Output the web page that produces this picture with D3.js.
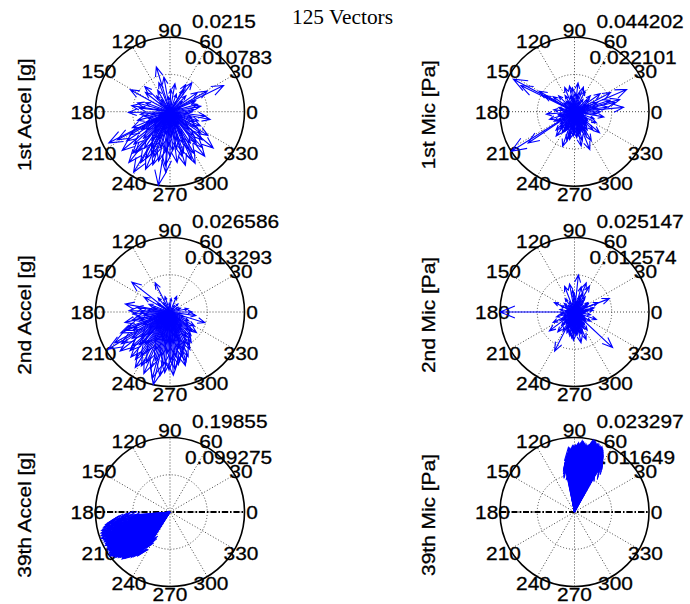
<!DOCTYPE html>
<html>
<head>
<meta charset="utf-8">
<script src="https://cdn.jsdelivr.net/npm/d3@7"></script>
<style>
  body { margin: 0; background: #fff; }
  svg { display: block; }
</style>
</head>
<body>
<script>
// ---- Data: compass vectors (angle in degrees, magnitude in physical units) ----
const title = "125 Vectors";
const panelLabels = ["1st Accel [g]", "1st Mic [Pa]", "2nd Accel [g]", "2nd Mic [Pa]", "39th Accel [g]", "39th Mic [Pa]"];
const ringMax  = [0.0215, 0.044202, 0.026586, 0.025147, 0.19855, 0.023297];
const ringHalf = [0.010783, 0.022101, 0.013293, 0.012574, 0.099275, 0.011649];
const angleTicks = [0, 30, 60, 90, 120, 150, 180, 210, 240, 270, 300, 330];

const accel1Angle = [26,29,53,58,100,107,111,142,151,171,
  173,15,23,0,35,45,70,80,88,120,
  130,160,165,10,5,40,95,135,125,60,
  181,349,353,185,190,195,188,198,207,208,
  203,210,212,205,214,219,222,225,218,228,
  226,230,231,235,239,240,237,243,233,244,
  247,250,252,255,248,257,258,246,261,265,
  263,268,270,272,266,274,278,285,280,282,
  288,276,286,296,297,292,300,303,298,294,
  308,310,315,319,320,312,317,325,330,335,
  322,338,328,345,355,342,200,230,260,290,
  320,350,20,80,140,170,215,245,275,305,
  335,190,110,60,250];
const accel1Mag = [.0172,.0123,.0105,.0075,.0101,.0135,.0090,.0090,.0131,.0112,
  .0090,.0082,.0080,.0065,.0097,.0065,.0054,.0082,.0065,.0071,
  .0060,.0075,.0097,.0090,.0071,.0047,.0043,.0103,.0043,.0090,
  .0120,.0118,.0103,.0086,.0075,.0097,.0054,.0065,.0198,.0172,
  .0118,.0133,.0097,.0075,.0151,.0178,.0140,.0108,.0086,.0161,
  .0065,.0155,.0189,.0129,.0204,.0170,.0097,.0151,.0075,.0118,
  .0181,.0138,.0161,.0108,.0086,.0146,.0065,.0133,.0215,.0157,
  .0118,.0097,.0129,.0075,.0176,.0112,.0148,.0133,.0108,.0086,
  .0125,.0065,.0161,.0166,.0123,.0097,.0140,.0108,.0075,.0151,
  .0163,.0118,.0097,.0123,.0163,.0140,.0075,.0108,.0086,.0097,
  .0065,.0075,.0129,.0065,.0054,.0086,.0032,.0043,.0039,.0047,
  .0032,.0026,.0032,.0026,.0039,.0043,.0054,.0047,.0032,.0043,
  .0039,.0026,.0022,.0032,.0054];

const mic1Angle = [152,154,150,212,214,23,15,5,13,35,
  22,83,101,112,63,152,185,320,292,281,
  251,233,197,333,296,45,75,95,120,135,
  165,175,205,220,240,260,270,285,300,305,
  315,340,350,355,8,18,28,40,55,88,
  105,128,145,190,225,245,255,265,275,290,
  310,325,0,10,70,
  3,14,27,33,48,66,79,91,97,109,
  118,133,141,158,169,178,183,194,203,209,
  218,227,236,243,248,254,259,263,268,272,
  277,283,288,294,299,304,308,313,318,324,
  329,336,344,352,358,22,58,86,124,171,
  199,231,246,257,279,286,297,311,267,239];
const mic1Mag = [.0411,.0354,.0243,.0442,.0332,.0336,.0278,.0292,.0248,.0186,
  .0146,.0172,.0155,.0155,.0137,.0203,.0168,.0194,.0243,.0208,
  .0217,.0181,.0155,.0146,.0159,.0133,.0124,.0141,.0111,.0133,
  .0097,.0124,.0133,.0111,.0146,.0168,.0133,.0177,.0199,.0133,
  .0155,.0124,.0177,.0133,.0199,.0221,.0243,.0111,.0088,.0111,
  .0097,.0080,.0155,.0097,.0155,.0124,.0177,.0111,.0155,.0124,
  .0111,.0097,.0155,.0133,.0155,
  .0066,.0053,.0088,.0080,.0044,.0062,.0097,.0071,.0088,.0053,
  .0066,.0044,.0080,.0057,.0088,.0066,.0053,.0097,.0080,.0110,
  .0088,.0124,.0097,.0133,.0110,.0088,.0141,.0097,.0124,.0080,
  .0115,.0133,.0097,.0110,.0124,.0088,.0106,.0080,.0097,.0066,
  .0088,.0066,.0053,.0080,.0062,.0097,.0066,.0044,.0071,.0053,
  .0088,.0133,.0115,.0155,.0141,.0124,.0133,.0088,.0146,.0110];

const accel2Angle = [142,117,108,67,170,172,343,322,211,209,
  218,257,261,275,286,305,298,242,234,222,
  150,160,130,85,45,10,0,352,330,20,
  178,183,188,192,196,200,203,206,213,215,
  220,224,227,229,232,236,238,240,245,247,
  249,251,253,255,259,263,265,267,269,271,
  273,277,279,281,283,285,288,290,292,295,
  300,303,308,312,316,319,325,335,186,198,
  205,217,226,231,243,250,256,262,268,276,
  282,287,294,302,310,180,175,165,145,125,
  95,55,30,350,340,320,200,212,225,237,
  246,258,266,274,284,296,306,190,208,233,
  254,270,193,202,228];
const accel2Mag = [.0173,.0117,.0058,.0061,.0162,.0120,.0130,.0120,.0258,.0226,
  .0226,.026586,.0231,.0205,.0199,.0133,.0152,.0218,.0210,.0183,
  .0106,.0080,.0066,.0048,.0040,.0066,.0080,.0093,.0101,.0040,
  .0146,.0133,.0120,.0138,.0112,.0160,.0191,.0146,.0207,.0165,
  .0133,.0199,.0160,.0213,.0146,.0186,.0234,.0165,.0199,.0239,
  .0146,.0213,.0181,.0245,.0160,.0191,.0218,.0146,.0207,.0173,
  .0226,.0160,.0191,.0181,.0133,.0165,.0186,.0146,.0173,.0128,
  .0138,.0106,.0120,.0112,.0093,.0106,.0080,.0074,.0093,.0080,
  .0106,.0093,.0112,.0080,.0120,.0093,.0106,.0120,.0101,.0112,
  .0093,.0106,.0080,.0074,.0066,.0106,.0080,.0066,.0053,.0040,
  .0032,.0027,.0032,.0040,.0053,.0048,.0053,.0066,.0058,.0074,
  .0053,.0066,.0058,.0074,.0053,.0048,.0040,.0048,.0040,.0040,
  .0040,.0032,.0165,.0175,.0154];

const mic2Angle = [180,84,111,68,60,66,21,22,12,317,
  243,217,206,155,156,282,293,259,341,75,
  95,100,55,35,5,350,330,305,270,250,
  230,195,170,140,125,
  2,9,17,26,31,39,44,51,58,63,72,78,88,92,104,116,121,133,146,162,
  174,184,189,199,211,222,226,236,239,247,253,256,262,264,267,273,276,279,285,288,
  291,297,299,302,309,312,321,325,334,338,346,355,358,7,14,47,81,119,151,166,
  177,203,214,233,245,251,258,266,271,274,281,287,295,303,315,327,344,352,193,241,
  261,268,277,284,289,298,246,272,300,228];
const mic2Mag = [.025147,.0126,.0093,.0106,.0101,.0070,.0126,.0086,.0068,.0176,
  .0148,.0106,.0080,.0075,.0050,.0106,.0101,.0083,.0078,.0088,
  .0075,.0096,.0063,.0055,.0063,.0055,.0063,.0075,.0070,.0075,
  .0088,.0063,.0050,.0045,.0055,
  .0038,.0050,.0030,.0045,.0055,.0025,.0038,.0050,.0030,.0045,.0055,.0038,.0050,.0063,.0030,.0038,.0025,.0030,.0038,.0025,
  .0030,.0045,.0050,.0038,.0055,.0045,.0063,.0050,.0075,.0063,.0055,.0075,.0063,.0088,.0070,.0075,.0080,.0063,.0075,.0055,
  .0070,.0050,.0063,.0045,.0055,.0038,.0050,.0045,.0038,.0030,.0025,.0038,.0030,.0045,.0030,.0038,.0030,.0025,.0020,.0025,
  .0030,.0038,.0045,.0038,.0050,.0045,.0038,.0055,.0050,.0063,.0045,.0050,.0038,.0050,.0038,.0030,.0025,.0020,.0025,.0030,
  .0050,.0096,.0070,.0063,.0080,.0055,.0030,.0038,.0045,.0050];

const accel39Angle = [184.5,185,186,186.5,187.5,188,189,189.5,
  190,190.5,191,192,192.5,193,193.5,194,194.5,195,195.5,196,
  196.5,197,197.5,198,198.5,199,199.5,200,200.5,201,201.5,202,202.3,202.7,
  203,203.5,204,204.5,205,205.5,206,206.5,207,207.3,207.7,208,208.2,208.6,
  209,209.4,209.8,210.2,210.6,211,211.4,211.8,212.2,212.6,213,213.4,213.8,214.1,214.5,214.8,
  215.2,215.6,216,216.4,216.8,217.2,217.6,218,218.4,218.8,219.2,219.6,220,220.3,220.7,221,
  221.5,222,222.5,223,223.5,224,224.5,225,225.5,226,226.5,227,227.3,227.7,
  228,228.5,229,229.5,230,230.5,231,231.5,232,232.5,233,233.5,
  234,234.5,235,235.5,236,236.5,237,237.5,238,
  195,200,205,210,215,220,225,212,218,203];
const accel39Mag = [.1211,.1092,.1310,.0993,.1430,.1549,.1350,.1628,
  .1688,.1390,.1747,.1588,.1787,.1489,.1827,.1708,.1191,.1886,.1668,.1847,
  .1787,.1926,.1549,.1886,.1747,.1946,.1390,.1847,.1906,.1966,.1688,.1827,.1588,.1926,
  .1747,.1886,.1509,.1926,.1787,.1628,.1906,.1847,.1727,.1946,.1430,.1886,.1787,.1688,
  .1906,.1787,.1588,.1926,.1847,.1708,.1946,.1827,.1489,.1926,.1767,.1886,.1648,.1966,.1827,.1727,
  .1906,.1966,.1787,.19855,.1688,.1886,.1827,.1926,.1588,.1847,.1747,.1886,.1866,.1628,.1807,.1787,
  .1827,.1708,.1787,.1549,.1747,.1688,.1787,.1628,.1727,.1708,.1390,.1668,.1588,.1628,
  .1588,.1549,.1430,.1588,.1489,.1390,.1529,.1291,.1469,.1430,.1191,.1449,
  .1430,.1231,.1171,.1092,.1032,.1152,.0953,.0894,.0993,
  .1291,.1489,.1390,.1350,.1430,.1390,.1291,.1191,.1231,.1152];

const mic39Angle = [60.5,61,61.5,62,62.4,62.8,63.2,63.6,64,64.3,64.6,65,65.3,65.7,
  66,66.4,66.8,67.2,67.6,68,68.4,68.8,69.2,69.6,70,70.3,70.6,71,71.3,71.7,
  72,72.4,72.8,73.2,73.6,74,74.3,74.7,75,75.4,75.8,76.2,76.6,77,77.4,77.8,
  78.2,78.6,79,79.4,79.8,80.2,80.6,81,81.4,81.8,82.2,82.6,83,83.4,83.8,84.2,
  84.6,85,85.4,85.8,86.2,86.6,87,87.4,87.8,88.2,88.6,89,89.4,89.8,90.2,90.6,
  91,91.4,91.8,92.2,92.6,93,93.4,93.8,94.2,94.6,95,95.4,95.8,96.2,96.6,97,
  97.4,97.8,98.2,98.6,99,99.4,99.8,100.2,100.6,101,101.4,101.8,
  63,66,69,72,75,78,81,84,87,90,93,96,99,70,80,88,76,92,64];
const mic39Mag = [.0154,.0177,.0163,.0186,.0172,.0196,.0182,.0200,.0191,.0205,.0186,.0210,.0198,.0214,
  .0205,.0217,.0200,.0221,.0210,.0219,.0203,.0221,.0214,.0207,.0224,.0210,.0217,.0226,.0205,.0221,
  .0214,.0224,.0210,.0228,.0217,.0231,.0221,.0226,.0212,.023297,.0219,.0224,.0210,.0217,.0203,.0214,
  .0205,.0212,.0198,.0210,.0203,.0214,.0196,.0210,.0217,.0205,.0214,.0221,.0210,.0219,.0224,.0212,
  .0217,.0207,.0214,.0200,.0210,.0217,.0205,.0212,.0198,.0207,.0203,.0210,.0196,.0205,.0200,.0207,
  .0203,.0191,.0207,.0198,.0186,.0200,.0182,.0196,.0186,.0200,.0191,.0203,.0175,.0186,.0168,.0182,
  .0177,.0163,.0172,.0158,.0168,.0151,.0163,.0144,.0154,.0140,.0144,.0137,
  .0140,.0163,.0175,.0182,.0186,.0168,.0175,.0182,.0163,.0168,.0158,.0151,.0128,.0151,.0144,.0140,.0158,.0144,.0144];

// Panels in reading order (left column, right column; three rows)
const panels = [
  { angle: accel1Angle, mag: accel1Mag, axisLine: false },
  { angle: mic1Angle,   mag: mic1Mag,   axisLine: false },
  { angle: accel2Angle, mag: accel2Mag, axisLine: false },
  { angle: mic2Angle,   mag: mic2Mag,   axisLine: false },
  { angle: accel39Angle, mag: accel39Mag, axisLine: true },
  { angle: mic39Angle,   mag: mic39Mag,   axisLine: true }
];

// ---- Layout ----
const W = 690, H = 604;
const colX = [170, 574.5];
const rowY = [111.7, 312, 512];
const R = 74.5;
const FONT = 19, STRETCH = 1.1;   // Helvetica-like labels, slightly widened
const rad = d => d * Math.PI / 180;

const svg = d3.select("body").append("svg")
  .attr("width", W).attr("height", H)
  .style("font-family", "'Liberation Sans', Arial, Helvetica, sans-serif");

svg.append("text")
  .attr("x", 342.5).attr("y", 24)
  .attr("text-anchor", "middle")
  .attr("textLength", 101).attr("lengthAdjust", "spacingAndGlyphs")
  .style("font-family", "'Liberation Serif', 'Times New Roman', serif")
  .style("font-size", "22px")
  .text(title);

// places a label at (px, py) with optional rotation, widened horizontally
function label(g, px, py, txt, anchor, dy, rot) {
  return g.append("text")
    .attr("transform", `translate(${px},${py})${rot ? ` rotate(${rot})` : ""} scale(${STRETCH},1)`)
    .attr("text-anchor", anchor)
    .attr("dy", dy)
    .attr("fill", "#000").attr("stroke", "#000").attr("stroke-width", 0.3)
    .style("font-size", FONT + "px")
    .text(txt);
}

panels.forEach((p, i) => {
  const cx = colX[i % 2], cy = rowY[Math.floor(i / 2)];
  const rm = ringMax[i];
  const x = d3.scaleLinear().domain([-rm, rm]).range([cx - R, cx + R]);
  const y = d3.scaleLinear().domain([-rm, rm]).range([cy + R, cy - R]);
  const g = svg.append("g");

  // dotted spokes through the centre every 30 degrees
  g.selectAll("line.spoke").data(angleTicks.filter(a => a < 180)).join("line")
    .attr("class", "spoke")
    .attr("x1", a => x(-rm * Math.cos(rad(a)))).attr("y1", a => y(-rm * Math.sin(rad(a))))
    .attr("x2", a => x(rm * Math.cos(rad(a)))).attr("y2", a => y(rm * Math.sin(rad(a))))
    .attr("stroke", "#444").attr("stroke-width", 1).attr("stroke-dasharray", "1,2");

  // dotted inner ring
  g.append("circle")
    .attr("cx", x(0)).attr("cy", y(0)).attr("r", x(ringHalf[i]) - x(0))
    .attr("fill", "none").attr("stroke", "#444").attr("stroke-width", 1).attr("stroke-dasharray", "1,2");

  // solid outer ring
  g.append("circle")
    .attr("cx", x(0)).attr("cy", y(0)).attr("r", x(rm) - x(0))
    .attr("fill", "none").attr("stroke", "#000").attr("stroke-width", 1.6);

  // dash-dot horizontal reference line
  if (p.axisLine) {
    g.append("line")
      .attr("x1", x(-rm)).attr("y1", y(0)).attr("x2", x(rm)).attr("y2", y(0))
      .attr("stroke", "#000").attr("stroke-width", 2).attr("stroke-dasharray", "6,2,1.5,2");
  }

  // angle labels
  angleTicks.forEach(a => {
    label(g, x(1.1 * rm * Math.cos(rad(a))), y(1.1 * rm * Math.sin(rad(a))), a, "middle", "0.36em");
  });

  // ring value labels
  label(g, cx + 22, cy - 84, String(rm), "start", 0);
  label(g, cx + 15, cy - 48, String(ringHalf[i]), "start", 0);

  // compass arrows: shaft plus head scaled to the vector length
  const line = d3.line().x(d => x(d[0])).y(d => y(d[1]));
  g.selectAll("path.vec").data(d3.range(p.angle.length)).join("path")
    .attr("class", "vec")
    .attr("d", k => {
      const zx = p.mag[k] * Math.cos(rad(p.angle[k]));
      const zy = p.mag[k] * Math.sin(rad(p.angle[k]));
      return line([
        [0, 0],
        [zx, zy],
        [0.8 * zx - 0.08 * zy, 0.8 * zy + 0.08 * zx],
        [zx, zy],
        [0.8 * zx + 0.08 * zy, 0.8 * zy - 0.08 * zx]
      ]);
    })
    .attr("fill", "none").attr("stroke", "#0000ff").attr("stroke-width", 1.1);

  // rotated panel label
  label(g, cx - 146, cy + 3, panelLabels[i], "middle", "0.36em", -90);
});
</script>
</body>
</html>
